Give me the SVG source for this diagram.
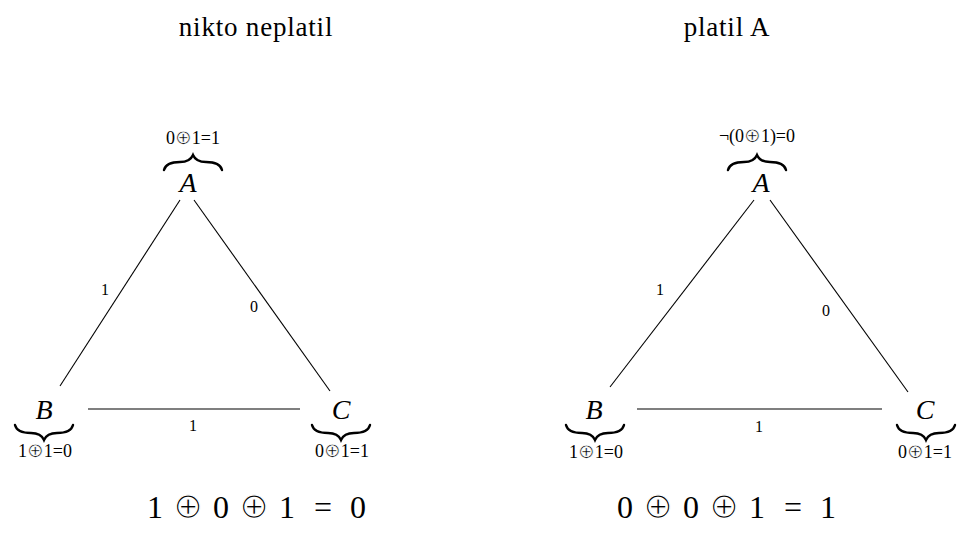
<svg xmlns="http://www.w3.org/2000/svg" width="960" height="534" viewBox="0 0 960 534">
<style>
.t{font-family:"Liberation Serif","DejaVu Serif",serif;fill:#000;text-anchor:middle}
.op{font-family:"DejaVu Sans","Liberation Serif",sans-serif;font-weight:normal;stroke:#fff;paint-order:normal}
.title{font-size:27px;letter-spacing:0.8px}
.eq{font-size:32px}
.eq .op{font-size:36px;stroke-width:1.3px}
.node{font-size:28px;font-style:italic}
.small{font-size:18px}
.small .op{font-size:20px;stroke-width:0.6px}
.lbl{font-size:16px}
.e{stroke:#000;stroke-width:1.1;fill:none}
.br{stroke:#000;stroke-width:2.4;fill:none;stroke-linecap:round}
</style>
<defs>
<path id="brace" class="br" d="M-29,7 Q-27,-1 -13,-1 Q-3,-1 0,-8 Q3,-1 13,-1 Q27,-1 29,7"/>
</defs>
<rect width="960" height="534" fill="#fff"/>
<g id="titles">
<text class="t title" x="256" y="36">nikto neplatil</text>
<text class="t title" x="727" y="36">platil A</text>
</g>
<g id="connectors">
<line class="e" x1="180" y1="200" x2="60" y2="386"/>
<line class="e" x1="194" y1="200" x2="330" y2="391"/>
<line class="e" x1="88" y1="409" x2="300" y2="409"/>
<line class="e" x1="754" y1="200" x2="610" y2="387"/>
<line class="e" x1="770" y1="200" x2="908" y2="392"/>
<line class="e" x1="637" y1="409" x2="882" y2="409"/>
<text class="t lbl" x="105" y="295">1</text>
<text class="t lbl" x="254" y="312">0</text>
<text class="t lbl" x="193" y="431">1</text>
<text class="t lbl" x="660" y="295">1</text>
<text class="t lbl" x="826" y="316">0</text>
<text class="t lbl" x="759" y="432">1</text>
</g>
<g id="A1">
<text class="t small" x="193" y="144">0<tspan class="op">⊕</tspan>1=1</text>
<use href="#brace" transform="translate(193,163)"/>
<text class="t node" x="188" y="192">A</text>
</g>
<g id="B1">
<text class="t node" x="44" y="419">B</text>
<use href="#brace" transform="translate(44,432) scale(1,-1)"/>
<text class="t small" x="45" y="457">1<tspan class="op">⊕</tspan>1=0</text>
</g>
<g id="C1">
<text class="t node" x="341" y="419">C</text>
<use href="#brace" transform="translate(341,432) scale(1,-1)"/>
<text class="t small" x="342" y="457">0<tspan class="op">⊕</tspan>1=1</text>
</g>
<g id="A2">
<text class="t small" x="757" y="142">¬(0<tspan class="op">⊕</tspan>1)=0</text>
<use href="#brace" transform="translate(757,163)"/>
<text class="t node" x="761" y="192">A</text>
</g>
<g id="B2">
<text class="t node" x="594" y="419">B</text>
<use href="#brace" transform="translate(595,432) scale(1,-1)"/>
<text class="t small" x="596" y="458">1<tspan class="op">⊕</tspan>1=0</text>
</g>
<g id="C2">
<text class="t node" x="925" y="419">C</text>
<use href="#brace" transform="translate(926,432) scale(1,-1)"/>
<text class="t small" x="925" y="458">0<tspan class="op">⊕</tspan>1=1</text>
</g>
<g id="equations">
<text class="t eq" y="518"><tspan x="155">1</tspan><tspan class="op" x="188">⊕</tspan><tspan x="221">0</tspan><tspan class="op" x="254">⊕</tspan><tspan x="287">1</tspan><tspan x="323">=</tspan><tspan x="358">0</tspan></text>
<text class="t eq" y="518"><tspan x="625">0</tspan><tspan class="op" x="658">⊕</tspan><tspan x="691">0</tspan><tspan class="op" x="724">⊕</tspan><tspan x="757">1</tspan><tspan x="793">=</tspan><tspan x="828">1</tspan></text>
</g>
</svg>
